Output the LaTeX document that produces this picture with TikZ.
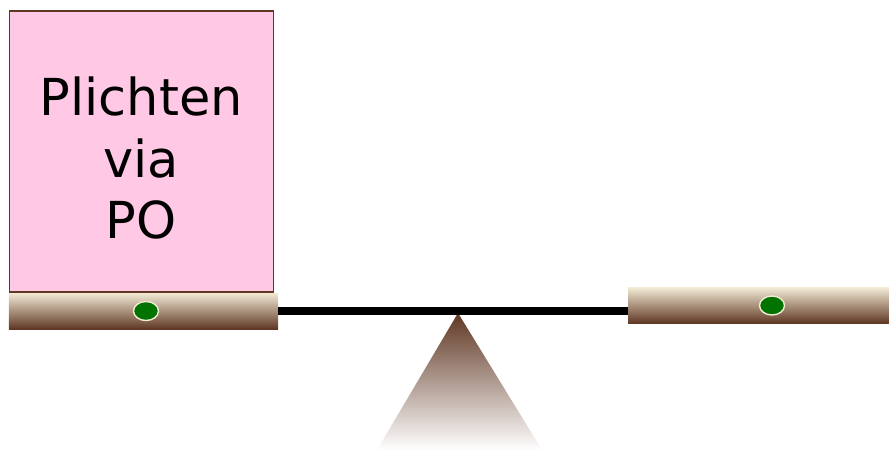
\documentclass[tikz,border=0pt]{standalone}
\usepackage{fontspec}
\setmainfont{DejaVu Sans}
\usetikzlibrary{positioning,shapes.geometric,calc}
\definecolor{blush}{RGB}{255,200,228}
\definecolor{bark}{RGB}{95,55,35}
\definecolor{cream}{RGB}{242,234,212}
\definecolor{knob}{RGB}{0,115,0}

\begin{document}
\begin{tikzpicture}
    \useasboundingbox (0,0) rectangle (17.78,9);
    % pivot under the beam
    \coordinate (pivot) at (9.16,2.74);
    \shade[top color=bark,bottom color=white] (pivot) -- (10.84,0) -- (7.54,0) -- cycle;
    % the two pans with their knobs
    \foreach \p/\x/\y/\w/\k in {leftpan/2.87/2.78/5.38/2.92, rightpan/15.17/2.89/5.22/15.44}
    {
      \node[rectangle,inner sep=0pt,minimum width=\w cm,minimum height=0.72cm,
        top color=cream,middle color=cream!55!bark,bottom color=bark] (\p) at (\x,\y) {};
      \node[ellipse,fill=knob,draw=cream,line width=0.8pt,inner sep=0pt,
        minimum width=0.5cm,minimum height=0.38cm] (\p knob) at (\k,\y) {};
    }
    \draw[black,line width=5pt] (leftpan.east) -- (leftpan.east -| rightpan.west);
    \node[draw=bark,line width=0.8pt,fill=blush,anchor=south west,inner sep=0pt,
      minimum width=5.28cm,minimum height=5.62cm] (duty) at (leftpan.north west) {};
    \node[align=center,font=\fontsize{29}{35}\selectfont] (dutytext)
      at ([yshift=-0.14cm]duty.center) {Plichten\\via\\PO};
  \end{tikzpicture}
\end{document}
